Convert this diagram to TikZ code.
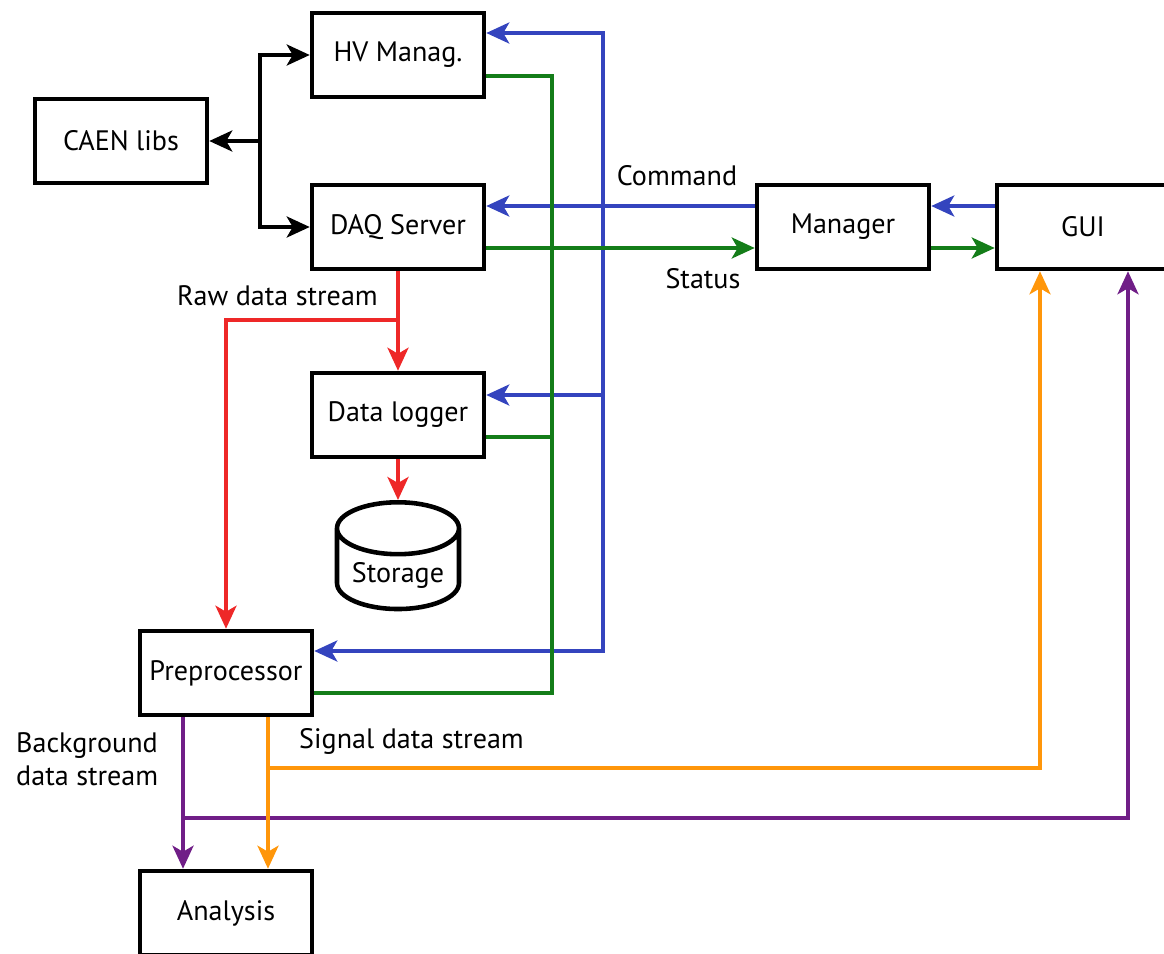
\documentclass[tikz,border=0pt]{standalone}
\usepackage{fontspec}
\setmainfont{PT Sans}
\usetikzlibrary{arrows.meta,shapes.geometric}
\definecolor{CmdBlue}{RGB}{52,68,190}
\definecolor{StatGreen}{RGB}{20,125,25}
\definecolor{RawRed}{RGB}{238,40,40}
\definecolor{SigOrange}{RGB}{255,150,10}
\definecolor{BkgPurple}{RGB}{112,30,135}

\begin{document}
\begin{tikzpicture}[x=0.02cm,y=-0.02cm,
  block/.style={draw, line width=2.6pt, minimum width=3.44cm, minimum height=1.68cm,
    font=\fontsize{16}{19}\selectfont},
  bus/.style={line width=2.1pt},
  link/.style={bus, -{Stealth[length=0.46cm,width=0.42cm,inset=0.12cm]}},
  lbl/.style={font=\fontsize{16}{19}\selectfont}]
\useasboundingbox (0,0) rectangle (1164,954);

% blocks
\node[block] (hv) at (398,55) {HV Manag.};
\node[block] (caen) at (121,141) {CAEN libs};
\node[block] (daq) at (398,227) {DAQ Server};
\node[block] (logger) at (398,415) {Data logger};
\node[cylinder, draw, line width=2.6pt, shape border rotate=90, aspect=0.5,
  minimum width=2.44cm, minimum height=2.1cm, anchor=north,
  font=\fontsize{16}{19}\selectfont] (storage) at (398,500) {Storage};
\node[block] (prep) at (226,673) {Preprocessor};
\node[block] (ana) at (226,913) {Analysis};
\node[block] (mgr) at (843,227) {Manager};
\node[block] (gui) at (1083,227) {GUI};

% junctions
\coordinate (caensplit) at (260,141);
\coordinate (cmdbus) at (603,206);
\coordinate (statbus) at (552,248);
\coordinate (rawsplit) at (398,320);
\coordinate (sigsplit) at (268,768);
\coordinate (bkgsplit) at (183,818);

% libraries
\draw[link] (caensplit) -- (caen.east);
\draw[link] (caensplit) |- (hv.west);
\draw[link] (caensplit) |- (daq.west);

% commands
\draw[link, CmdBlue] ([yshift=0.42cm]gui.west) -- ([yshift=0.42cm]mgr.east);
\draw[link, CmdBlue] ([yshift=0.42cm]mgr.west) -- ([yshift=0.42cm]daq.east);
\draw[link, CmdBlue] (cmdbus) |- ([yshift=0.44cm]hv.east);
\draw[link, CmdBlue] (cmdbus) |- ([yshift=0.4cm]logger.east);
\draw[link, CmdBlue] (cmdbus) |- ([yshift=0.44cm]prep.east);

% status
\draw[bus, StatGreen] ([yshift=-0.42cm]hv.east) -| (statbus);
\draw[bus, StatGreen] ([yshift=-0.44cm]logger.east) -| (statbus);
\draw[bus, StatGreen] ([yshift=-0.4cm]prep.east) -| (statbus);
\draw[link, StatGreen] ([yshift=-0.42cm]daq.east) -- ([yshift=-0.42cm]mgr.west);
\draw[link, StatGreen] ([yshift=-0.42cm]mgr.east) -- ([yshift=-0.42cm]gui.west);

% raw data
\draw[link, RawRed] (daq.south) -- (logger.north);
\draw[link, RawRed] (rawsplit) -| (prep.north);
\draw[link, RawRed] (logger.south) -- (storage.north);

% processed streams
\draw[link, BkgPurple] ([xshift=-0.86cm]prep.south) -- ([xshift=-0.86cm]ana.north);
\draw[link, BkgPurple] (bkgsplit) -| ([xshift=0.9cm]gui.south);
\draw[link, SigOrange] ([xshift=0.84cm]prep.south) -- ([xshift=0.84cm]ana.north);
\draw[link, SigOrange] (sigsplit) -| ([xshift=-0.86cm]gui.south);

% labels
\node[lbl, anchor=east] (rawlbl) at (384,296) {Raw data stream};
\node[lbl] (cmdlbl) at (677,176) {Command};
\node[lbl] (statlbl) at (703,279) {Status};
\node[lbl, anchor=west, align=left] (bkglbl) at (10,759) {Background\\data stream};
\node[lbl, anchor=west] (siglbl) at (293,741) {Signal data stream};
\end{tikzpicture}
\end{document}
